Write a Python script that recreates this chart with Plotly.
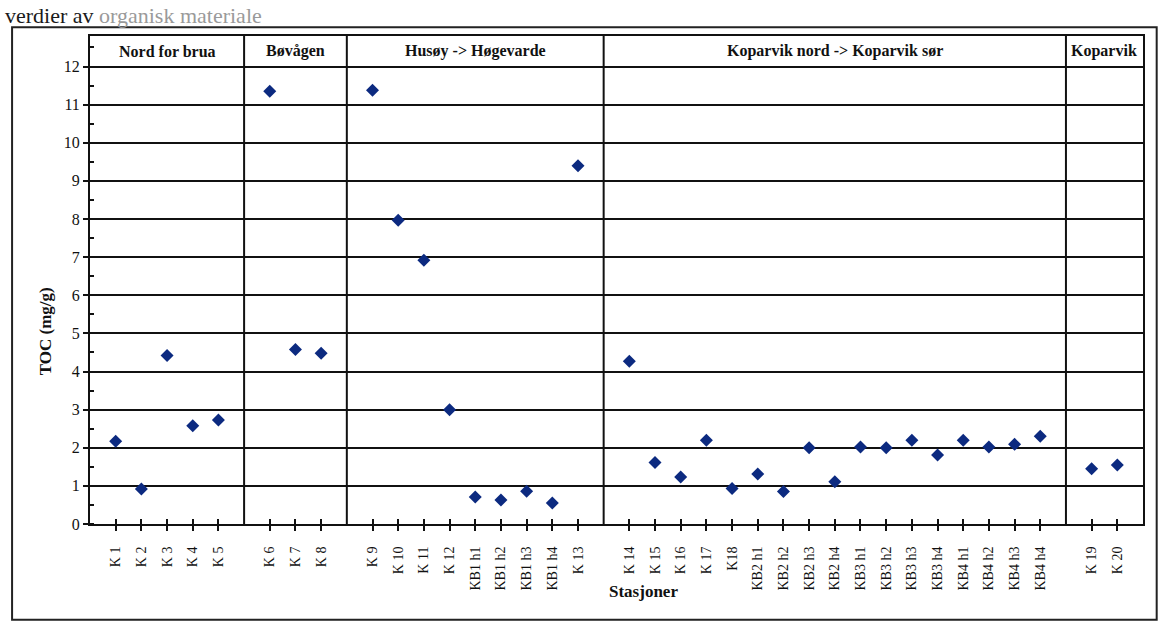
import plotly.graph_objects as go

# Station groups along the coast, left to right
group_names = ["Nord for brua", "Bøvågen", "Husøy -> Høgevarde",
               "Koparvik nord -> Koparvik sør", "Koparvik"]

stations_nord = ["K 1", "K 2", "K 3", "K 4", "K 5"]
toc_nord = [2.17, 0.92, 4.42, 2.58, 2.73]

stations_bovagen = ["K 6", "K 7", "K 8"]
toc_bovagen = [11.35, 4.58, 4.48]

stations_husoy = ["K 9", "K 10", "K 11", "K 12", "KB1 h1", "KB1 h2",
                  "KB1 h3", "KB1 h4", "K 13"]
toc_husoy = [11.38, 7.97, 6.92, 3.0, 0.71, 0.63, 0.86, 0.55, 9.4]

stations_kop_ns = ["K 14", "K 15", "K 16", "K 17", "K18",
                   "KB2 h1", "KB2 h2", "KB2 h3", "KB2 h4",
                   "KB3 h1", "KB3 h2", "KB3 h3", "KB3 h4",
                   "KB4 h1", "KB4 h2", "KB4 h3", "KB4 h4"]
toc_kop_ns = [4.27, 1.61, 1.23, 2.2, 0.93, 1.31, 0.85, 2.0, 1.11,
              2.02, 2.0, 2.2, 1.81, 2.2, 2.02, 2.09, 2.3]

stations_koparvik = ["K 19", "K 20"]
toc_koparvik = [1.45, 1.55]

y_ticks = list(range(0, 13))

groups = [
    (stations_nord, toc_nord),
    (stations_bovagen, toc_bovagen),
    (stations_husoy, toc_husoy),
    (stations_kop_ns, toc_kop_ns),
    (stations_koparvik, toc_koparvik),
]

# Lay stations out on a slot axis with one empty slot between groups
xs, ys, labels, dividers, spans = [], [], [], [], []
slot = 0
for names, vals in groups:
    start = slot - 1
    for n, v in zip(names, vals):
        xs.append(slot)
        ys.append(v)
        labels.append(n)
        slot += 1
    spans.append((start, slot))
    dividers.append(slot)
    slot += 1
dividers = dividers[:-1]
x_min, x_max = -1, xs[-1] + 1
y_top = 12.8

SERIF = "Liberation Serif, Times New Roman, serif"
INK = "#111111"

fig = go.Figure()
fig.add_trace(go.Scatter(
    x=xs, y=ys, mode="markers",
    marker=dict(symbol="diamond", size=10, color="#0c2a80"),
    hoverinfo="skip", showlegend=False,
))
# companion trace carrying the inward half of the x tick marks
fig.add_trace(go.Scatter(
    x=xs, y=ys, mode="markers", xaxis="x2",
    marker=dict(opacity=0), hoverinfo="skip", showlegend=False,
))

shapes = []
for d in dividers:
    shapes.append(dict(type="line", xref="x", yref="y", x0=d, x1=d,
                       y0=0, y1=y_top, line=dict(color=INK, width=2)))

# chart frame
shapes.append(dict(type="rect", xref="paper", yref="paper",
                   x0=-0.074, x1=1.013, y0=-0.196, y1=1.018,
                   line=dict(color="#222222", width=2)))

annotations = []
for name, (a, b) in zip(group_names, spans):
    annotations.append(dict(
        x=(a + b) / 2, y=(12 + y_top) / 2, xref="x", yref="y",
        xanchor="center", yanchor="middle",
        text=f"<b>{name}</b>", showarrow=False,
        font=dict(family=SERIF, size=16, color=INK)))

annotations.append(dict(
    x=0.526, y=-0.139, xref="paper", yref="paper",
    xanchor="center", yanchor="middle",
    text="<b>Stasjoner</b>", showarrow=False,
    font=dict(family=SERIF, size=17, color=INK)))
annotations.append(dict(
    x=-0.0427, y=0.395, xref="paper", yref="paper",
    xanchor="center", yanchor="middle",
    text="<b>TOC (mg/g)</b>", showarrow=False, textangle=-90,
    font=dict(family=SERIF, size=17, color=INK)))
# running text of the page above the chart
annotations.append(dict(
    x=-0.083, y=1.072, xref="paper", yref="paper",
    xanchor="left", yanchor="top",
    text='verdier av <span style="color:#9a9a9a">organisk materiale</span>',
    showarrow=False, font=dict(family=SERIF, size=22, color="#1a1a1a")))

fig.update_layout(
    width=1164, height=626,
    margin=dict(l=90, r=21, t=36, b=102),
    paper_bgcolor="white", plot_bgcolor="white",
    shapes=shapes, annotations=annotations,
    xaxis=dict(
        range=[x_min, x_max], tickmode="array", tickvals=xs, ticktext=labels,
        tickangle=-90, ticks="outside", ticklen=5, tickwidth=2, tickcolor=INK,
        ticklabelstandoff=10,
        showgrid=False, zeroline=False, showline=True, linewidth=2,
        linecolor=INK, mirror=True,
        tickfont=dict(family=SERIF, size=14, color=INK),
    ),
    xaxis2=dict(
        overlaying="x", matches="x", side="bottom",
        tickmode="array", tickvals=xs, ticks="inside", ticklen=5,
        tickwidth=2, tickcolor=INK, showticklabels=False,
        showgrid=False, zeroline=False, showline=False,
    ),
    yaxis=dict(
        range=[0, y_top], tickmode="array", tickvals=y_ticks,
        ticks="outside", ticklen=5, tickwidth=2, tickcolor=INK,
        minor=dict(dtick=0.5, tick0=0, ticks="inside", ticklen=4,
                   tickwidth=2, tickcolor=INK, showgrid=False),
        showgrid=True, gridcolor=INK, gridwidth=2,
        zeroline=False, showline=True, linewidth=2, linecolor=INK,
        mirror=True,
        tickfont=dict(family=SERIF, size=16, color=INK),
    ),
)

fig.write_html("out.html")
